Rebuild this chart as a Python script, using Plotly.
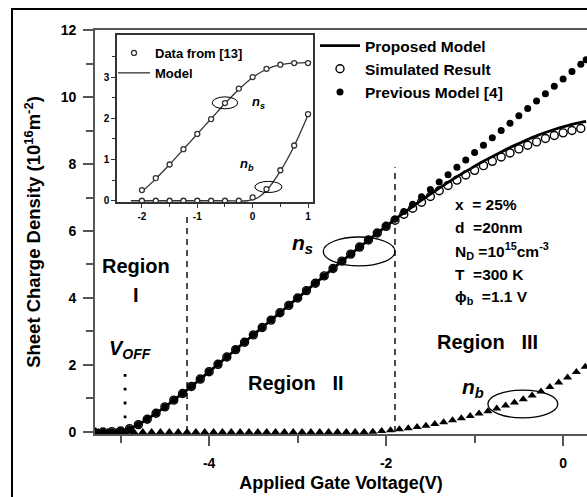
import plotly.graph_objects as go

# ---------------- data ----------------
# main plot: applied gate voltage (V)
v_main = [round(-5.3 + 0.1 * i, 2) for i in range(56)] + [0.26]
# proposed model n_s (10^16 m^-2)
ns_model = [0.0, 0.0, 0.01, 0.03, 0.10, 0.22, 0.38, 0.56, 0.75, 0.95,
            1.15, 1.36, 1.58, 1.80, 2.02, 2.24, 2.46, 2.68, 2.90, 3.12,
            3.34, 3.56, 3.78, 4.00, 4.22, 4.44, 4.66, 4.88, 5.10, 5.31,
            5.52, 5.73, 5.94, 6.14, 6.34, 6.54, 6.73, 6.92, 7.10, 7.28,
            7.45, 7.62, 7.78, 7.93, 8.08, 8.22, 8.36, 8.49, 8.61, 8.73,
            8.84, 8.94, 9.03, 9.11, 9.18, 9.24, 9.27]
# simulated result n_s
v_sim = [round(-5.3 + 0.1 * i, 2) for i in range(56)]
ns_sim = [0.0, 0.0, 0.01, 0.03, 0.10, 0.22, 0.38, 0.56, 0.75, 0.95,
          1.15, 1.36, 1.58, 1.80, 2.02, 2.24, 2.46, 2.68, 2.90, 3.12,
          3.34, 3.56, 3.78, 4.00, 4.22, 4.44, 4.66, 4.88, 5.10, 5.31,
          5.52, 5.73, 5.94, 6.14, 6.32, 6.50, 6.68, 6.86, 7.03, 7.20,
          7.36, 7.52, 7.67, 7.81, 7.95, 8.08, 8.21, 8.33, 8.45, 8.56,
          8.66, 8.76, 8.85, 8.93, 9.00, 9.06]
# previous model [4]
v_prev = [round(-5.3 + 0.1 * i, 2) for i in range(56)] + [0.26]
ns_prev = [0.0, 0.0, 0.01, 0.03, 0.10, 0.22, 0.38, 0.56, 0.75, 0.95,
           1.15, 1.36, 1.58, 1.80, 2.02, 2.24, 2.46, 2.68, 2.90, 3.12,
           3.34, 3.56, 3.78, 4.00, 4.22, 4.44, 4.66, 4.88, 5.10, 5.31,
           5.52, 5.73, 5.94, 6.14, 6.36, 6.58, 6.80, 7.02, 7.24, 7.46,
           7.68, 7.90, 8.12, 8.34, 8.56, 8.78, 9.00, 9.22, 9.44, 9.66,
           9.88, 10.10, 10.32, 10.54, 10.76, 10.98, 11.11]
# n_b (triangles)
v_nb = [round(-5.25 + 0.1 * i, 2) for i in range(56)]
nb_vals = [0.0] * 31 + [0.01, 0.03, 0.05, 0.08, 0.11, 0.15, 0.19, 0.24,
                        0.29, 0.35, 0.41, 0.48, 0.55, 0.62, 0.70, 0.79,
                        0.88, 0.98, 1.09, 1.21, 1.34, 1.48, 1.63, 1.79,
                        1.95]

region_bounds = [-4.25, -1.9]
region_tops = [6.5, 7.9]
v_off = -4.95
v_off_top = 1.95

# inset data
v_in = [-2.0, -1.75, -1.5, -1.25, -1.0, -0.75, -0.5, -0.25, 0.0, 0.25, 0.5, 0.75, 1.0]
ns_data13 = [0.26, 0.55, 0.88, 1.25, 1.62, 1.98, 2.37, 2.72, 3.00, 3.20, 3.30, 3.34, 3.34]
nb_data13 = [0.0, 0.0, 0.0, 0.0, 0.0, 0.0, 0.0, 0.0, 0.08, 0.28, 0.74, 1.34, 2.10]
v_in_model_s = [-2.0, -1.75, -1.5, -1.25, -1.0, -0.75, -0.5, -0.25, 0.0, 0.25, 0.5, 0.75, 1.0]
ns_model_in = [0.22, 0.53, 0.88, 1.25, 1.62, 1.99, 2.36, 2.70, 2.99, 3.19, 3.30, 3.34, 3.35]
v_in_model_b = [-2.2, -1.5, -1.0, -0.5, -0.1, 0.0, 0.1, 0.25, 0.5, 0.75, 1.0]
nb_model_in = [0.0, 0.0, 0.0, 0.0, 0.0, 0.03, 0.08, 0.25, 0.72, 1.33, 2.08]

FONT = "Liberation Sans, Arial, sans-serif"
AX = "#555555"

fig = go.Figure()

# main traces
fig.add_trace(go.Scatter(x=v_nb, y=nb_vals, mode="markers", showlegend=False,
                         marker=dict(symbol="triangle-up", size=8, color="black")))
fig.add_trace(go.Scatter(x=v_prev, y=ns_prev, mode="markers", name="<b>Previous Model [4]</b>",
                         legendrank=3,
                         marker=dict(symbol="circle", size=7, color="black")))
fig.add_trace(go.Scatter(x=v_sim, y=ns_sim, mode="markers", name="<b>Simulated Result</b>",
                         legendrank=2,
                         marker=dict(symbol="circle-open", size=8, color="black",
                                     line=dict(color="black", width=1.4))))
fig.add_trace(go.Scatter(x=v_main, y=ns_model, mode="lines", name="<b>Proposed Model</b>",
                         legendrank=1, line=dict(color="black", width=2.8, shape="spline")))

# inset traces
fig.add_trace(go.Scatter(x=v_in_model_s, y=ns_model_in, mode="lines", xaxis="x2", yaxis="y2",
                         name="<b>Model</b>", legend="legend2", legendrank=2,
                         line=dict(color="#333333", width=1.3, shape="spline")))
fig.add_trace(go.Scatter(x=v_in_model_b, y=nb_model_in, mode="lines", xaxis="x2", yaxis="y2",
                         showlegend=False, legend="legend2",
                         line=dict(color="#333333", width=1.3, shape="spline")))
fig.add_trace(go.Scatter(x=v_in + v_in, y=ns_data13 + nb_data13, mode="markers",
                         xaxis="x2", yaxis="y2", name="<b>Data from [13]</b>",
                         legend="legend2", legendrank=1,
                         marker=dict(symbol="circle", size=5, color="white",
                                     line=dict(color="#333333", width=1.3))))

shapes = []
for xb, top in zip(region_bounds, region_tops):
    shapes.append(dict(type="line", xref="x", yref="y", x0=xb, x1=xb, y0=0, y1=top,
                       line=dict(color="black", width=1.4, dash="6px,5px")))
shapes.append(dict(type="line", xref="x", yref="y", x0=v_off, x1=v_off, y0=0.0, y1=v_off_top,
                   line=dict(color="black", width=2.8, dash="2.8px,11px")))
# ellipses
shapes.append(dict(type="circle", xref="x", yref="y", x0=-2.71, x1=-1.9, y0=4.96, y1=5.82,
                   line=dict(color="black", width=1.3)))
shapes.append(dict(type="circle", xref="x", yref="y", x0=-0.85, x1=-0.06, y0=0.42, y1=1.25,
                   line=dict(color="black", width=1.3)))
shapes.append(dict(type="circle", xref="x2", yref="y2", x0=-0.73, x1=-0.27, y0=2.23, y1=2.52,
                   line=dict(color="black", width=1.0)))
shapes.append(dict(type="circle", xref="x2", yref="y2", x0=0.04, x1=0.53, y0=0.2, y1=0.47,
                   line=dict(color="black", width=1.0)))
# outer picture frame
shapes.append(dict(type="rect", xref="paper", yref="paper", x0=(12 - 95) / 492, x1=1.2,
                   y0=-0.3, y1=(434 - 9) / 404, line=dict(color="black", width=2)))

ann = []
def txt(x, y, s, size=17, xanchor="center", xref="x", yref="y"):
    ann.append(dict(x=x, y=y, xref=xref, yref=yref, text=s, showarrow=False,
                    xanchor=xanchor, yanchor="middle",
                    font=dict(family=FONT, size=size, color="black")))

txt(-4.83, 4.96, "<b>Region</b>", size=20)
txt(-4.83, 4.09, "<b>I</b>", size=20)
txt(-4.9, 2.45, "<b><i>V</i></b><sub><b><i>OFF</i></b></sub>", size=20)
txt(-3.02, 1.46, "<b>Region   II</b>", size=20)
txt(-0.86, 2.69, "<b>Region   III</b>", size=20)
txt(-2.95, 5.6, "<b><i>n</i></b><sub><b><i>s</i></b></sub>", size=21)
txt(-1.02, 1.31, "<b><i>n</i></b><sub><b><i>b</i></b></sub>", size=21)
params = ["<b>x  = 25%</b>", "<b>d  =20nm</b>",
          "<b>N</b><sub><b>D</b></sub><b> =10</b><sup><b>15</b></sup><b>cm</b><sup><b>-3</b></sup>",
          "<b>T  =300 K</b>", "<b>ϕ</b><sub><b>b</b></sub><b>  =1.1 V</b>"]
for i, p in enumerate(params):
    txt(-1.24, (432 - (204 + 23.5 * i)) / 33.5, p, size=15.5, xanchor="left")
# inset labels
txt(0.1, 2.38, "<b><i>n</i></b><sub><b><i>s</i></b></sub>", size=13)
txt(-0.1, 0.88, "<b><i>n</i></b><sub><b><i>b</i></b></sub>", size=13)
for a in ann[-2:]:
    a["xref"] = "x2"
    a["yref"] = "y2"

fig.update_layout(
    width=587, height=497,
    margin=dict(l=95, r=0, t=30, b=63),
    paper_bgcolor="white", plot_bgcolor="white",
    font=dict(family=FONT, color="black"),
    shapes=shapes, annotations=ann,
    xaxis=dict(range=[-5.29, 0.27], tickvals=[-4, -2, 0], ticktext=["<b>-4</b>", "<b>-2</b>", "<b>0</b>"],
               ticks="outside", ticklen=10, tickwidth=1.6, tickcolor=AX, ticklabelstandoff=5,
               minor=dict(tickvals=[-5, -3, -1], ticks="outside", ticklen=7, tickwidth=1.6, tickcolor=AX),
               showline=True, linecolor=AX, linewidth=1.6, mirror=True,
               showgrid=False, zeroline=False, tickfont=dict(size=14, family=FONT),
               title=dict(text="<b>Applied Gate Voltage(V)</b>", font=dict(size=18, family=FONT), standoff=7)),
    yaxis=dict(range=[-0.06, 12], tickvals=[0, 2, 4, 6, 8, 10, 12],
               ticktext=["<b>%d</b>" % v for v in [0, 2, 4, 6, 8, 10, 12]],
               ticks="outside", ticklen=10, tickwidth=1.6, tickcolor=AX, ticklabelstandoff=4,
               minor=dict(tickvals=[1, 3, 5, 7, 9, 11], ticks="outside", ticklen=7, tickwidth=1.6, tickcolor=AX),
               showline=True, linecolor=AX, linewidth=1.6,
               showgrid=False, zeroline=False, tickfont=dict(size=14, family=FONT),
               title=dict(text="<b>Sheet Charge Density (10<sup>16</sup>m<sup>-2</sup>)</b>",
                          font=dict(size=18.5, family=FONT), standoff=15)),
    xaxis2=dict(domain=[(117 - 95) / 492, (313 - 95) / 492], anchor="y2", range=[-2.45, 1.09],
                tickvals=[-2, -1, 0, 1], ticktext=["<b>-2</b>", "<b>-1</b>", "<b>0</b>", "<b>1</b>"],
                ticks="outside", ticklen=4, tickwidth=1.2, tickcolor="#333333",
                minor=dict(tickvals=[-1.5, -0.5, 0.5], ticks="outside", ticklen=3, tickwidth=1.2, tickcolor="#333333"),
                showline=True, linecolor="#333333", linewidth=1.6, mirror=True,
                showgrid=False, zeroline=False, tickfont=dict(size=10, family=FONT)),
    yaxis2=dict(domain=[(434 - 202) / 404, (434 - 35) / 404], anchor="x2", range=[-0.03, 4.02],
                tickvals=[0, 1, 2, 3], ticktext=["<b>0</b>", "<b>1</b>", "<b>2</b>", "<b>3</b>"],
                ticks="outside", ticklen=4, tickwidth=1.2, tickcolor="#333333",
                minor=dict(tickvals=[0.5, 1.5, 2.5, 3.5], ticks="outside", ticklen=3, tickwidth=1.2, tickcolor="#333333"),
                showline=True, linecolor="#333333", linewidth=1.6, mirror=True,
                showgrid=False, zeroline=False, tickfont=dict(size=10, family=FONT)),
    legend=dict(x=(315 - 95) / 492, y=(434 - 29) / 404, xanchor="left", yanchor="top",
                bgcolor="rgba(0,0,0,0)", borderwidth=0, itemwidth=40,
                font=dict(size=15.5, family=FONT, color="black"), tracegroupgap=0),
    legend2=dict(x=(113 - 95) / 492, y=(434 - 38) / 404, xanchor="left", yanchor="top",
                 bgcolor="rgba(0,0,0,0)", borderwidth=0, itemwidth=32,
                 font=dict(size=13, family=FONT, color="black")),
)

fig.write_html("out.html")
